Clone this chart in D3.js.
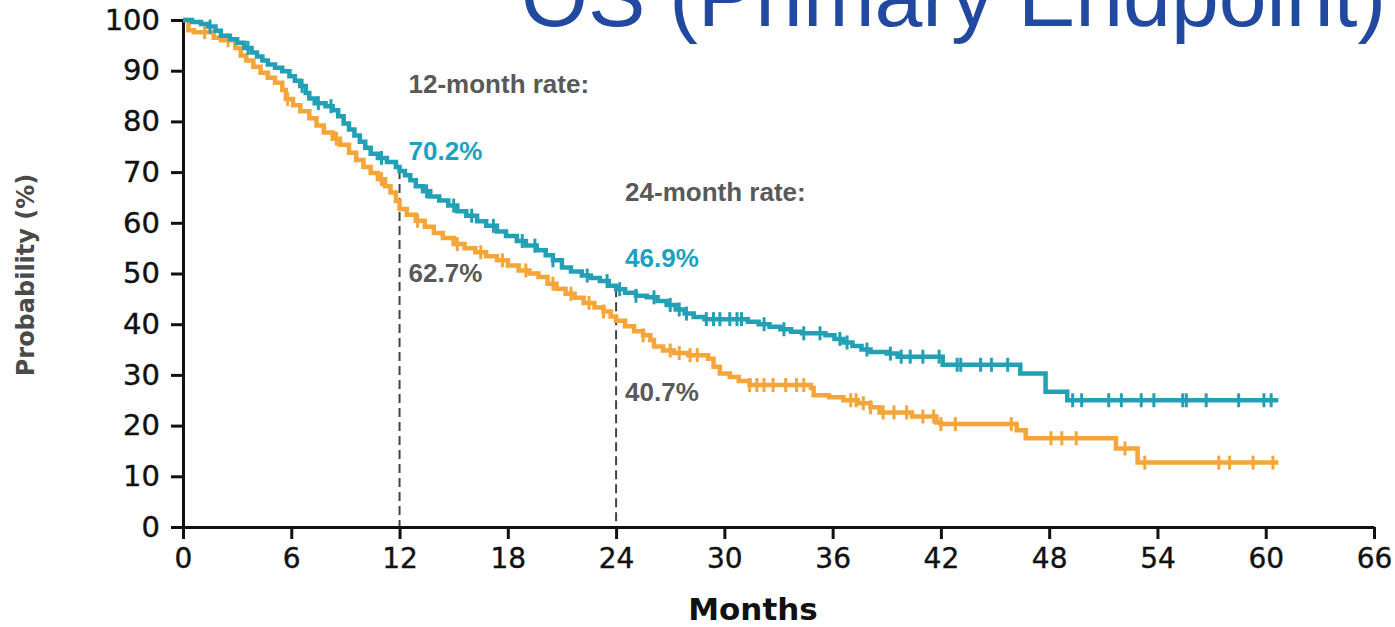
<!DOCTYPE html>
<html><head><meta charset="utf-8">
<script src="https://cdn.jsdelivr.net/npm/d3@7"></script>
<style>body{margin:0;background:#fff;} svg{display:block}</style>
</head><body>
<svg id="c" width="1395" height="627"></svg>
<script>
// ---- data ----
const xTicks = [0, 6, 12, 18, 24, 30, 36, 42, 48, 54, 60, 66];
const yTicks = [0, 10, 20, 30, 40, 50, 60, 70, 80, 90, 100];

const tealTime = [0,0.5,1.0,1.4,1.8,2.1,2.6,3.0,3.4,3.8,4.1,4.4,4.7,5.1,5.5,5.9,6.2,6.5,6.8,7.0,7.3,7.9,8.3,8.6,8.9,9.2,9.5,9.8,10.1,10.4,10.8,11.3,11.8,12.0,12.3,12.6,12.9,13.3,13.7,14.2,14.7,15.2,15.7,16.3,16.8,17.4,17.9,18.5,19.0,19.6,20.1,20.5,21.0,21.5,22.1,22.6,23.1,23.6,24.0,24.5,25.1,25.7,26.3,26.8,27.3,27.8,28.3,28.9,31.3,31.9,32.5,33.1,33.7,34.3,35.6,36.1,36.6,37.1,37.6,38.1,39.0,39.6,42.1,46.4,47.8,49.0,60.7];
const tealSurv = [100,99.6,99.2,98.7,97.9,96.9,96.2,95.5,94.5,93.6,92.8,92.0,91.2,90.6,89.9,88.9,88.0,87.0,85.6,84.5,83.6,83.0,82.2,81.0,79.6,78.4,77.2,76.0,74.8,73.6,72.8,72.0,71.0,70.2,69.4,68.4,67.2,66.2,65.2,64.4,63.4,62.3,61.4,60.3,59.4,58.3,57.4,56.4,55.5,54.6,53.6,52.6,51.2,50.4,49.6,49.1,48.5,47.6,46.9,46.2,45.6,45.3,44.6,43.8,42.9,42.1,41.4,41.0,40.5,40.0,39.5,39.0,38.5,38.2,37.8,37.1,36.4,35.7,35.0,34.5,34.2,33.6,32.0,30.3,26.7,25.0,25.0];
const tealCensor = [1.5,3.6,6.6,7.5,8.2,11.0,13.5,15.0,16.0,17.2,18.8,19.5,20.5,22.4,23.5,24.2,25.1,26.1,27.0,27.5,27.9,29.0,29.4,29.75,30.3,30.7,30.95,32.2,33.3,34.4,35.3,36.4,36.8,37.9,39.2,39.8,40.3,41.0,41.9,42.9,43.1,44.2,44.8,45.7,49.3,49.8,51.3,52.0,53.1,53.8,55.4,55.6,56.7,58.5,59.9,60.3];

const orangeTime = [0,0.3,0.6,1.7,2.1,2.9,3.2,3.5,3.9,4.3,4.7,5.1,5.5,5.7,6.1,6.5,7.0,7.4,7.8,8.3,8.7,9.2,9.6,10.0,10.4,10.8,11.2,11.5,11.8,12.0,12.4,12.9,13.4,13.9,14.4,15.0,15.6,16.2,16.8,17.4,18.0,18.6,19.2,19.7,20.2,20.7,21.2,21.7,22.2,22.8,23.3,23.7,24.0,24.5,25.0,25.5,25.9,26.1,26.6,27.2,28.0,29.1,29.4,29.75,30.3,30.8,31.4,34.8,34.95,35.8,36.6,37.4,38.1,38.6,40.4,41.75,42.0,46.2,46.7,51.7,52.9,60.7];
const orangeSurv = [100,98.0,97.6,96.5,96.0,94.5,93.0,92.0,90.8,89.6,88.6,87.6,86.2,84.4,83.2,82.0,80.6,79.2,77.8,76.6,75.4,73.8,72.4,71.0,69.8,68.6,67.2,66.0,64.3,62.7,61.6,60.4,59.2,58.0,57.0,55.8,55.0,54.2,53.4,52.6,51.6,50.6,50.0,49.3,48.0,47.0,46.0,45.2,44.2,43.3,42.5,41.5,40.7,39.6,38.6,37.8,36.9,35.6,34.8,34.3,33.9,33.2,31.6,30.3,29.6,28.8,28.0,27.4,26.0,25.6,25.0,24.4,23.6,22.6,21.8,20.6,20.3,19.1,17.5,15.5,12.7,12.7];
const orangeCensor = [1.2,2.5,5.8,8.5,11.0,13.0,15.2,16.5,17.7,19.0,20.5,21.5,22.5,23.3,25.5,27.0,27.5,28.1,28.5,31.4,31.8,32.2,32.7,33.4,34.0,34.4,37.0,37.3,37.7,38.1,38.8,39.4,40.1,41.0,41.6,42.0,42.8,45.9,48.1,48.7,49.5,52.2,53.3,57.4,58.0,59.3,60.4];

const landmarkMonths = [12, 24];
const landmarkHeads = ["12-month rate:", "24-month rate:"];
const landmarkTeal = ["70.2%", "46.9%"];
const landmarkOrange = ["62.7%", "40.7%"];
const landmarkTealVal = [70.2, 46.9];

const titleText = "OS (Primary Endpoint)";
const xLabel = "Months";
const yLabel = "Probability (%)";

// ---- styles ----
const TEAL = "#22a0b6", ORANGE = "#f5a53a", TEAL_TXT = "#1ba2bf", GRAY_TXT = "#595959";

const svg = d3.select("#c");
const x = d3.scaleLinear().domain([0, 66]).range([183, 1374]);
const y = d3.scaleLinear().domain([0, 100]).range([527, 20]);

// title
svg.append("text").attr("x", 521).attr("y", 26)
  .attr("font-family", "Liberation Sans, Arial, sans-serif")
  .attr("font-size", 86).attr("fill", "#2149a0").text(titleText);

// dashed landmark lines
svg.selectAll("line.lm").data(landmarkMonths).join("line")
  .attr("class", "lm")
  .attr("x1", d => x(d)).attr("x2", d => x(d))
  .attr("y1", (d, i) => y(landmarkTealVal[i]) - 1).attr("y2", y(0))
  .attr("stroke", "#444").attr("stroke-width", 2).attr("stroke-dasharray", "9,5");

// axes
const yAxis = svg.append("g").attr("transform", `translate(${x(0)},0)`)
  .call(d3.axisLeft(y).tickValues(yTicks).tickSize(12).tickSizeOuter(0).tickPadding(11));
const xAxis = svg.append("g").attr("transform", `translate(0,${y(0)})`)
  .call(d3.axisBottom(x).tickValues(xTicks).tickSize(12).tickSizeOuter(0).tickPadding(9));
[yAxis, xAxis].forEach(g => {
  g.select(".domain").attr("stroke", "#111").attr("stroke-width", 3);
  g.selectAll(".tick line").attr("stroke", "#111").attr("stroke-width", 3);
  g.selectAll(".tick text").attr("font-family", "DejaVu Sans, Verdana, sans-serif")
    .attr("font-size", 28).attr("fill", "#111")
    .attr("stroke", "#111").attr("stroke-width", 0.4);
});
yAxis.selectAll(".tick text").attr("font-size", 29);

// curves
function series(times, surv) { return times.map((t, i) => [t, surv[i]]); }
function stepVal(times, surv, t) { const i = d3.bisectRight(times, t) - 1; return surv[Math.max(0, i)]; }
const line = d3.line().x(d => x(d[0])).y(d => y(d[1])).curve(d3.curveStepAfter);

function drawArm(times, surv, cens, color) {
  svg.append("path").datum(series(times, surv)).attr("d", line)
    .attr("fill", "none").attr("stroke", color).attr("stroke-width", 4.5);
  svg.append("g").selectAll("line").data(cens).join("line")
    .attr("x1", d => x(d)).attr("x2", d => x(d))
    .attr("y1", d => y(stepVal(times, surv, d)) - 7)
    .attr("y2", d => y(stepVal(times, surv, d)) + 7)
    .attr("stroke", color).attr("stroke-width", 3);
}
drawArm(orangeTime, orangeSurv, orangeCensor, ORANGE);
drawArm(tealTime, tealSurv, tealCensor, TEAL);

// annotations
const annFont = "Liberation Sans, Arial, sans-serif";
const headY = [93, 201], tealY = [160, 267], orY = [282, 401];
landmarkMonths.forEach((m, i) => {
  const lx = x(m) + 9;
  svg.append("text").attr("x", lx).attr("y", headY[i]).attr("font-family", annFont)
    .attr("font-weight", "bold").attr("font-size", 26).attr("fill", GRAY_TXT).text(landmarkHeads[i]);
  svg.append("text").attr("x", lx).attr("y", tealY[i]).attr("font-family", annFont)
    .attr("font-weight", "bold").attr("font-size", 26).attr("fill", TEAL_TXT).text(landmarkTeal[i]);
  svg.append("text").attr("x", lx).attr("y", orY[i]).attr("font-family", annFont)
    .attr("font-weight", "bold").attr("font-size", 26).attr("fill", GRAY_TXT).text(landmarkOrange[i]);
});

// axis titles
svg.append("text").attr("x", 753).attr("y", 620).attr("text-anchor", "middle")
  .attr("font-family", "DejaVu Sans, Verdana, sans-serif").attr("font-weight", "bold")
  .attr("font-size", 31).attr("fill", "#111").text(xLabel);
svg.append("text").attr("transform", "translate(34,275) rotate(-90)").attr("text-anchor", "middle")
  .attr("font-family", "DejaVu Sans, Verdana, sans-serif").attr("font-weight", "bold")
  .attr("font-size", 24).attr("fill", "#4a4a4a").text(yLabel);
</script>
</body></html>
